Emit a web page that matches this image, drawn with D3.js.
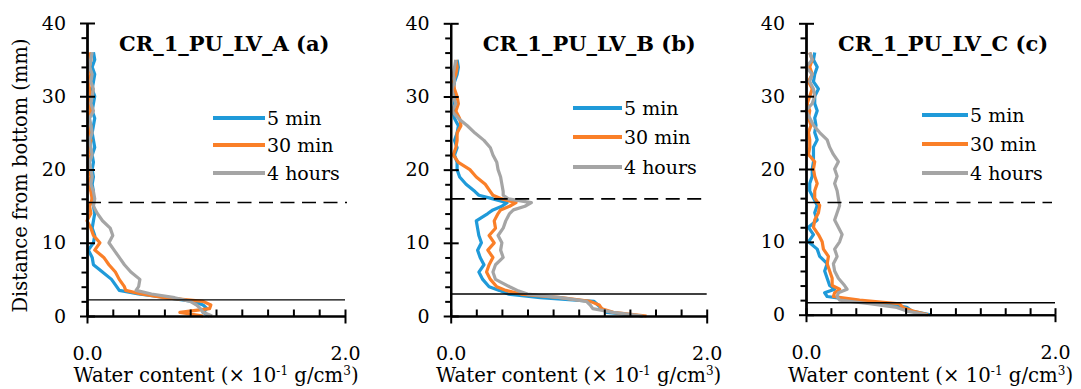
<!DOCTYPE html>
<html>
<head>
<meta charset="utf-8">
<script src="https://cdn.jsdelivr.net/npm/d3@7"></script>
<style>
  body { margin: 0; background: #fff; }
  svg { display: block; font-family: "DejaVu Serif", serif; }
</style>
</head>
<body>
<svg id="chart" width="1081" height="389"></svg>
<script>
// depth from bottom (mm)
const depthA = [0, 0.5, 1, 1.5, 2, 2.5, 3, 3.5, 4, 5, 6, 7, 8, 9, 10, 11, 12, 13, 14, 15, 16, 17, 18, 19, 20,
  21, 22, 23, 24, 25, 26, 27, 28, 29, 30, 31, 32, 33, 34, 35, 36];
const depthB = [0, 0.5, 1, 1.5, 2, 2.5, 3, 3.5, 4, 5, 6, 7, 8, 9, 10, 11, 12, 13, 14, 14.5, 15, 15.5, 16, 16.5,
  17, 18, 19, 20, 21, 22, 23, 24, 25, 26, 27, 28, 29, 30, 31, 32, 33, 34, 35];
const depthC = depthA;

// water content (x 10^-1 g/cm3)
const min5A = [0.95, 0.90, 0.93, 0.90, 0.82, 0.62, 0.40, 0.25, 0.23,
  0.19, 0.12, 0.05, 0.04, 0.01, 0.05, 0.06, 0.04, 0.05, 0.06, 0.05, 0.04, 0.05, 0.04, 0.05, 0.04,
  0.05, 0.04, 0.06, 0.05, 0.04, 0.05, 0.06, 0.04, 0.05, 0.06, 0.04, 0.05, 0.06, 0.04, 0.06, 0.05];
const min30A = [0.90, 0.72, 0.95, 0.96, 0.90, 0.60, 0.42, 0.30, 0.29,
  0.25, 0.22, 0.17, 0.13, 0.06, 0.10, 0.05, 0.03, 0.00, 0.03, 0.02, 0.04, 0.03, 0.01, 0.03, 0.02,
  0.01, 0.03, 0.02, 0.03, 0.02, 0.03, 0.01, 0.03, 0.01, 0.03, 0.02, 0.01, 0.03, 0.02, 0.03, 0.02];
const hours4A = [0.97, 0.90, 0.88, 0.85, 0.80, 0.68, 0.50, 0.38, 0.40,
  0.41, 0.34, 0.29, 0.25, 0.21, 0.17, 0.20, 0.18, 0.12, 0.08, 0.05, 0.06, 0.05, 0.03, 0.04, 0.03,
  0.02, 0.04, 0.03, 0.02, 0.04, 0.03, 0.02, 0.05, 0.03, 0.04, 0.05, 0.03, 0.04, 0.02, 0.03, 0.04];

const min5B = [1.50, 1.22, 1.18, 1.15, 1.12, 0.70, 0.45, 0.38, 0.30,
  0.25, 0.22, 0.26, 0.23, 0.21, 0.24, 0.22, 0.21, 0.20, 0.29,
  0.33, 0.40, 0.44, 0.33, 0.22,
  0.19, 0.12, 0.07, 0.05, 0.05, 0.03, 0.05, 0.03, 0.05, 0.06, 0.03, 0.02, 0.03, 0.03, 0.02, 0.03, 0.05, 0.06, 0.05];
const min30B = [1.53, 1.27, 1.18, 1.16, 1.09, 0.86, 0.55, 0.43, 0.36,
  0.31, 0.28, 0.30, 0.33, 0.29, 0.34, 0.30, 0.35, 0.34, 0.37,
  0.39, 0.46, 0.51, 0.40, 0.33,
  0.31, 0.27, 0.20, 0.15, 0.06, 0.02, 0.04, 0.05, 0.05, 0.08, 0.07, 0.04, 0.06, 0.05, 0.03, 0.02, 0.04, 0.05, 0.04];
const hours4B = [1.50, 1.27, 1.11, 1.09, 1.06, 0.86, 0.60, 0.52, 0.46,
  0.35, 0.33, 0.35, 0.41, 0.39, 0.40, 0.37, 0.41, 0.43, 0.46,
  0.49, 0.58, 0.63, 0.45, 0.41,
  0.41, 0.40, 0.39, 0.37, 0.36, 0.33, 0.31, 0.26, 0.19, 0.13, 0.06, 0.01, 0.04, 0.02, 0.01, 0.03, 0.02, 0.03, 0.04];

const min5C = [1.00, 0.85, 0.81, 0.65, 0.38, 0.17, 0.15, 0.23, 0.19,
  0.17, 0.15, 0.17, 0.11, 0.09, 0.02, 0.06, 0.02, 0.09, 0.07, 0.09, 0.06, 0.03, 0.03, 0.05, 0.05,
  0.06, 0.06, 0.06, 0.09, 0.07, 0.08, 0.07, 0.09, 0.07, 0.07, 0.10, 0.06, 0.07, 0.09, 0.06, 0.07];
const min30C = [0.98, 0.86, 0.78, 0.75, 0.43, 0.22, 0.23, 0.27, 0.21,
  0.21, 0.19, 0.17, 0.18, 0.14, 0.13, 0.10, 0.06, 0.07, 0.10, 0.11, 0.07, 0.07, 0.09, 0.07, 0.06,
  0.07, 0.02, 0.03, 0.03, 0.02, 0.04, 0.02, 0.03, 0.01, 0.03, 0.05, 0.02, 0.05, 0.03, 0.05, 0.03];
const hours4C = [0.97, 0.81, 0.73, 0.51, 0.27, 0.25, 0.26, 0.33, 0.31,
  0.26, 0.23, 0.22, 0.25, 0.23, 0.27, 0.29, 0.26, 0.23, 0.25, 0.27, 0.26, 0.25, 0.23, 0.25, 0.23,
  0.26, 0.22, 0.19, 0.17, 0.11, 0.06, 0.03, 0.00, 0.05, 0.07, 0.06, 0.03, 0.05, 0.00, 0.05, 0.03];

const seriesNames = ["5 min", "30 min", "4 hours"];
const seriesColors = ["#1f9ad9", "#fa7f28", "#a5a5a5"];
const yMajor = [0, 10, 20, 30, 40];
const xMajor = [0, 2];

const panels = [
  { title: "CR_1_PU_LV_A (a)", depth: depthA, series: [min5A, min30A, hours4A], solid: 2.2, dashed: 15.5,
    x0: 87, x1: 345, top: 23, bottom: 316, lineEnd: 347, legX: 213, legLen: 52, legY: [118, 145, 173] },
  { title: "CR_1_PU_LV_B (b)", depth: depthB, series: [min5B, min30B, hours4B], solid: 3.0, dashed: 16,
    x0: 450.7, x1: 706.7, top: 23.3, bottom: 316, lineEnd: 707, legX: 573, legLen: 49, legY: [108, 137, 167] },
  { title: "CR_1_PU_LV_C (c)", depth: depthC, series: [min5C, min30C, hours4C], solid: 1.65, dashed: 15.4,
    x0: 806, x1: 1055, top: 23.3, bottom: 314.7, lineEnd: 1052, legX: 922, legLen: 46, legY: [115, 144, 173] }
];

const font = "DejaVu Serif, serif";
const svg = d3.select("#chart");
svg.append("rect").attr("width", 1081).attr("height", 389).attr("fill", "#fff");

panels.forEach((p, pi) => {
  const x = d3.scaleLinear().domain([0, 2]).range([p.x0, p.x1]);
  const y = d3.scaleLinear().domain([0, 40]).range([p.bottom, p.top]);
  const g = svg.append("g").attr("font-family", font).attr("fill", "#000");

  // curves
  p.series.forEach((vals, i) => {
    const line = d3.line()
      .x(d => x(d))
      .y((d, j) => y(p.depth[j]));
    g.append("path")
      .datum(vals)
      .attr("fill", "none")
      .attr("stroke", seriesColors[i])
      .attr("stroke-width", 3.2)
      .attr("stroke-linejoin", "round")
      .attr("d", line);
  });

  // reference lines
  g.append("line")
    .attr("x1", p.x0).attr("x2", x(2))
    .attr("y1", y(p.solid)).attr("y2", y(p.solid))
    .attr("stroke", "#000").attr("stroke-width", 1.4);
  g.append("line")
    .attr("x1", p.x0).attr("x2", p.lineEnd)
    .attr("y1", y(p.dashed)).attr("y2", y(p.dashed))
    .attr("stroke", "#000").attr("stroke-width", 1.6)
    .attr("stroke-dasharray", "14,7.5");

  // y axis: minor ticks, inner part of major ticks, outer major ticks with labels
  const yMinor = d3.range(2, 40, 2).filter(v => v % 10 !== 0);
  g.append("g")
    .attr("transform", `translate(${p.x0},0)`)
    .call(d3.axisLeft(y).tickValues(yMinor).tickSize(5.5).tickSizeOuter(0).tickFormat(""));
  g.append("g")
    .attr("transform", `translate(${p.x0},0)`)
    .call(d3.axisRight(y).tickValues(yMajor).tickSize(8).tickSizeOuter(0).tickFormat(""));
  g.append("g")
    .attr("transform", `translate(${p.x0},0)`)
    .call(d3.axisLeft(y).tickValues(yMajor).tickSize(7).tickSizeOuter(0).tickPadding(14));

  // x axis
  g.append("g")
    .attr("transform", `translate(0,${p.bottom})`)
    .call(d3.axisTop(x).tickValues(d3.range(0, 2.01, 0.2)).tickSize(6.5).tickSizeOuter(0).tickFormat(""));
  g.append("g")
    .attr("transform", `translate(0,${p.bottom})`)
    .call(d3.axisBottom(x).tickValues(xMajor).tickSize(7.5).tickSizeOuter(0)
      .tickPadding(23).tickFormat(d3.format(".1f")));

  g.selectAll(".domain, .tick line").attr("stroke", "#000").attr("stroke-width", 2);
  g.selectAll(".tick text").attr("fill", "#000").attr("font-family", font).style("font-size", "19px");

  // x axis title
  const xt = g.append("text")
    .attr("x", (p.x0 + p.x1) / 2)
    .attr("y", 382)
    .attr("text-anchor", "middle")
    .style("font-size", "19.7px");
  xt.append("tspan").text("Water content (× 10");
  xt.append("tspan").attr("dy", -7).style("font-size", "12px").text("-1");
  xt.append("tspan").attr("dy", 7).text(" g/cm");
  xt.append("tspan").attr("dy", -7).style("font-size", "12px").text("3");
  xt.append("tspan").attr("dy", 7).text(")");

  // title
  g.append("text")
    .attr("x", p.x0 + 32)
    .attr("y", 51)
    .style("font-size", "21px")
    .style("font-weight", "bold")
    .text(p.title);

  // legend
  seriesNames.forEach((name, i) => {
    g.append("line")
      .attr("x1", p.legX).attr("x2", p.legX + p.legLen)
      .attr("y1", p.legY[i]).attr("y2", p.legY[i])
      .attr("stroke", seriesColors[i]).attr("stroke-width", 4);
    g.append("text")
      .attr("x", p.legX + p.legLen + 2)
      .attr("y", p.legY[i] + 7)
      .style("font-size", "19px")
      .text(name);
  });

  if (pi === 0) {
    g.append("text")
      .attr("transform", `translate(27,${(p.top + p.bottom) / 2 + 6}) rotate(-90)`)
      .attr("text-anchor", "middle")
      .style("font-size", "19.5px")
      .text("Distance from bottom (mm)");
  }
});
</script>
</body>
</html>
